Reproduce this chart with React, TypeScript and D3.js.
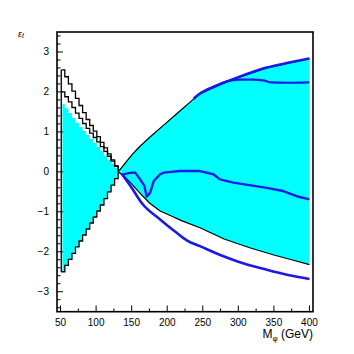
import React from "react";
import * as d3 from "d3";

// ---- data ----
// left region, bins of 5 GeV
const leftX = [51, 56, 61, 66, 71, 76, 81, 86, 91, 96, 101, 106, 111, 116, 121, 126, 131];
const leftOuterUpper = [2.55, 2.38, 2.2, 2.02, 1.84, 1.66, 1.48, 1.31, 1.16, 1.02, 0.88, 0.74, 0.6, 0.45, 0.3, 0.15, 0.0];
const leftInnerUpper = [2.0, 1.88, 1.75, 1.61, 1.47, 1.34, 1.21, 1.09, 0.97, 0.86, 0.75, 0.63, 0.51, 0.39, 0.27, 0.14, 0.02];
const leftCyanUpper = [1.7, 1.59, 1.47, 1.35, 1.23, 1.12, 1.02, 0.92, 0.82, 0.72, 0.62, 0.52, 0.41, 0.3, 0.2, 0.1, 0.02];
const leftLower = [-2.5, -2.34, -2.19, -2.04, -1.88, -1.73, -1.58, -1.43, -1.28, -1.13, -0.98, -0.83, -0.67, -0.5, -0.33, -0.17, 0.0];

// right fan
const fanUpperX = [131, 140, 150, 160, 175, 195, 215, 237, 246, 270, 300, 340, 370, 400];
const fanUpperY = [0, 0.2, 0.42, 0.61, 0.86, 1.17, 1.48, 1.82, 1.95, 2.15, 2.36, 2.6, 2.72, 2.83];
const fanLowerX = [131, 140, 150, 160, 175, 190, 205, 220, 246, 280, 316, 350, 375, 400];
const fanLowerY = [0, -0.12, -0.3, -0.5, -0.78, -0.98, -1.1, -1.22, -1.4, -1.68, -1.9, -2.08, -2.2, -2.32];

// blue curves
const blueTopX = [237, 246, 270, 300, 340, 370, 400];
const blueTopY = [1.83, 1.96, 2.16, 2.37, 2.61, 2.73, 2.84];
const blueSecondX = [262, 285, 300, 320, 335, 345, 370, 400];
const blueSecondY = [2.1, 2.27, 2.31, 2.31, 2.29, 2.24, 2.23, 2.24];
const blueLowX = [136, 150, 165, 190, 210, 228, 246, 280, 300, 340, 370, 400];
const blueLowY = [-0.05, -0.4, -0.8, -1.19, -1.48, -1.72, -1.86, -2.12, -2.25, -2.45, -2.58, -2.68];
const blueMidX = [136, 141, 150, 155, 162, 168, 171, 176, 181, 190, 195, 218, 246, 265, 274, 293, 340, 363, 382, 400];
const blueMidY = [-0.08, -0.05, -0.02, -0.02, -0.19, -0.36, -0.62, -0.52, -0.23, -0.06, -0.02, 0.02, 0.02, -0.06, -0.19, -0.27, -0.4, -0.48, -0.61, -0.69];

const xTickLabels = [50, 100, 150, 200, 250, 300, 350, 400];
const yTickLabels = [-3, -2, -1, 0, 1, 2, 3];

const W = 354;
const H = 354;

export default function App() {
  const x = d3.scaleLinear().domain([45, 405]).range([57, 313]);
  const y = d3.scaleLinear().domain([-3.5, 3.5]).range([311.7, 32]);

  const zip = (xs: number[], ys: number[]) => xs.map((v, i) => [v, ys[i]] as [number, number]);

  const stepLine = d3.line<[number, number]>().x((d) => x(d[0])).y((d) => y(d[1])).curve(d3.curveStepAfter);
  const line = d3.line<[number, number]>().x((d) => x(d[0])).y((d) => y(d[1]));
  const smooth = d3.line<[number, number]>().x((d) => x(d[0])).y((d) => y(d[1])).curve(d3.curveMonotoneX);

  // left cyan area
  const leftArea = d3
    .area<number>()
    .x((i) => x(i === 0 ? 52.6 : leftX[i]))
    .y0((i) => y(leftLower[i]))
    .y1((i) => y(leftCyanUpper[i]))
    .curve(d3.curveStepAfter);
  const idx = leftX.map((_, i) => i);

  // right fan polygon
  const fanPts: [number, number][] = [
    ...zip(fanUpperX, fanUpperY),
    ...zip(fanLowerX, fanLowerY).reverse(),
  ];

  const xMinor = d3.range(75, 401, 50);
  const yMinor = d3.range(-3.4, 3.41, 0.2).filter((v) => Math.abs(v - Math.round(v)) > 0.01);

  const font = "'Liberation Sans', Arial, Helvetica, sans-serif";
  const blue = "#1a1ae6";

  return (
    <svg
      width={W}
      height={H}
      style={{ position: "absolute", left: 0, top: 0, background: "#fff" }}
    >
      {/* cyan regions */}
      <path d={leftArea(idx) || ""} fill="#00ffff" stroke="none" />
      <path d={(line(fanPts) || "") + "Z"} fill="#00ffff" stroke="none" />

      {/* black contours left */}
      <path d={stepLine(zip(leftX, leftOuterUpper)) || ""} fill="none" stroke="#000" strokeWidth={1.3} />
      <path d={stepLine(zip(leftX, leftInnerUpper)) || ""} fill="none" stroke="#000" strokeWidth={1.3} />
      <path d={stepLine(zip(leftX, leftLower)) || ""} fill="none" stroke="#000" strokeWidth={1.3} />
      <line x1={x(leftX[0])} x2={x(leftX[0])} y1={y(leftOuterUpper[0])} y2={y(leftLower[0])} stroke="#000" strokeWidth={1.3} />

      {/* black contours right */}
      <path d={line(zip(fanUpperX, fanUpperY)) || ""} fill="none" stroke="#000" strokeWidth={1.2} />
      <path d={line(zip(fanLowerX, fanLowerY)) || ""} fill="none" stroke="#000" strokeWidth={1.2} />

      {/* blue curves */}
      <path d={smooth(zip(blueTopX, blueTopY)) || ""} fill="none" stroke={blue} strokeWidth={2.6} />
      <path d={smooth(zip(blueSecondX, blueSecondY)) || ""} fill="none" stroke={blue} strokeWidth={2.2} />
      <path d={smooth(zip(blueLowX, blueLowY)) || ""} fill="none" stroke={blue} strokeWidth={2.6} />
      <path d={line(zip(blueMidX, blueMidY)) || ""} fill="none" stroke={blue} strokeWidth={2.4} strokeLinejoin="round" />

      {/* frame */}
      <rect x={57} y={32} width={256} height={279.7} fill="none" stroke="#000" strokeWidth={1.6} />

      {/* x ticks */}
      {xTickLabels.map((v) => (
        <g key={"xt" + v}>
          <line x1={x(v)} x2={x(v)} y1={311.7} y2={305.5} stroke="#000" strokeWidth={1} />
          <text x={x(v)} y={326} fontSize={10} fontFamily={font} textAnchor="middle" fill="#000">
            {v}
          </text>
        </g>
      ))}
      {xMinor.map((v) => (
        <line key={"xm" + v} x1={x(v)} x2={x(v)} y1={311.7} y2={308.5} stroke="#000" strokeWidth={1} />
      ))}

      {/* y ticks */}
      {yTickLabels.map((v) => (
        <g key={"yt" + v}>
          <line x1={57} x2={63} y1={y(v)} y2={y(v)} stroke="#000" strokeWidth={1} />
          <text x={49} y={y(v) + 3.5} fontSize={10} fontFamily={font} textAnchor="end" fill="#000">
            {v < 0 ? "\u2212" + Math.abs(v) : v}
          </text>
        </g>
      ))}
      {yMinor.map((v) => (
        <line key={"ym" + v.toFixed(1)} x1={57} x2={60.5} y1={y(v)} y2={y(v)} stroke="#000" strokeWidth={1} />
      ))}

      {/* axis titles */}
      <text x={313} y={338} fontSize={12} fontFamily={font} textAnchor="end" fill="#000">
        M<tspan fontSize={8} dy={3}>φ</tspan>
        <tspan dy={-3}> (GeV)</tspan>
      </text>
      <text x={18} y={37} fontSize={9} fontFamily={font} fill="#000" fontStyle="italic">
        ε<tspan fontSize={7} dy={1}>t</tspan>
      </text>
    </svg>
  );
}
